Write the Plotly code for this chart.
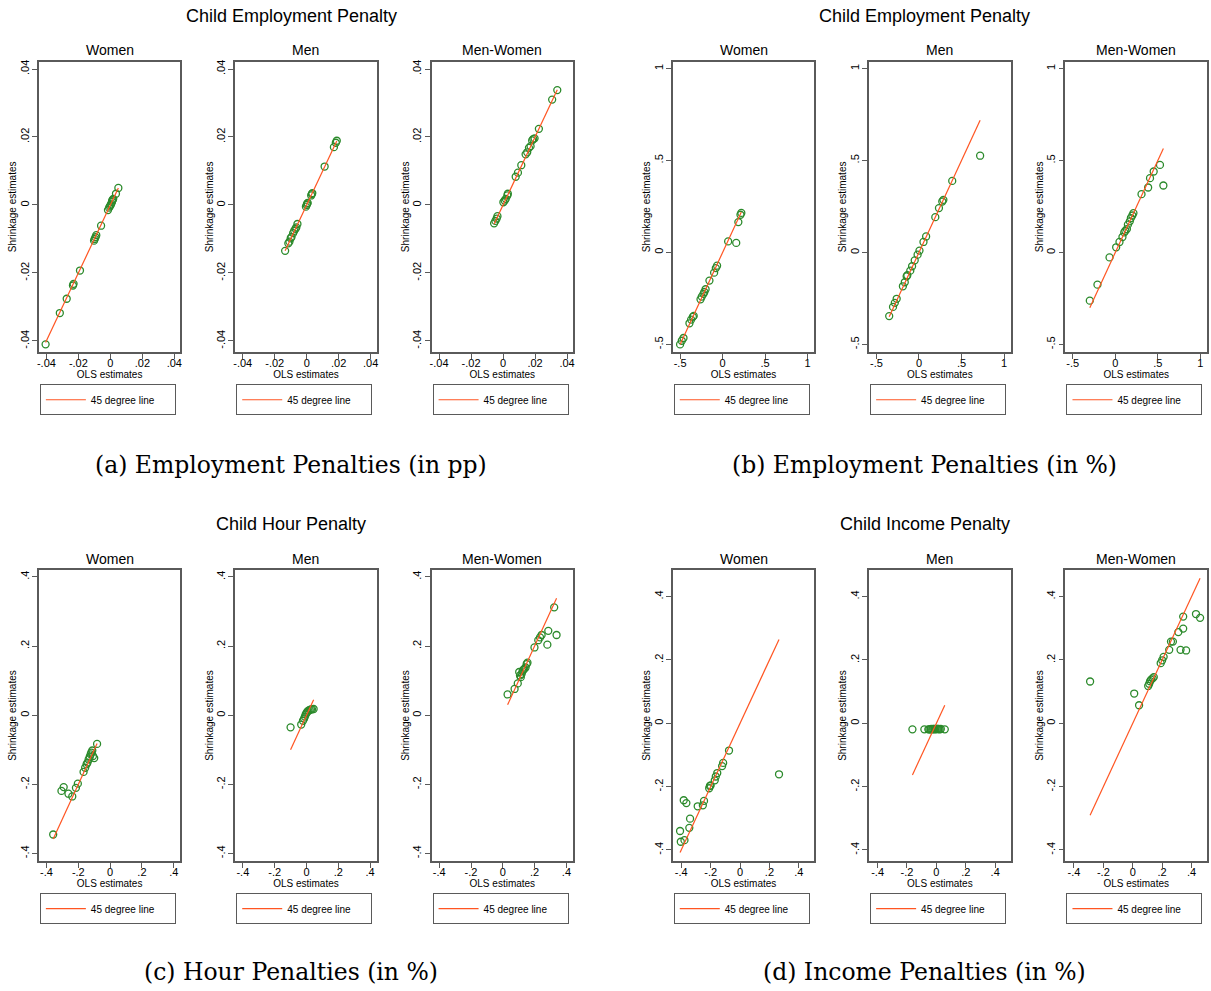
import plotly.graph_objects as go

W, H = 1211, 991

# ---------------- data: OLS estimates vs. shrinkage estimates ----------------
# (a) Employment penalties, in percentage points
emp_pp_women_ols = [-0.0405, -0.0316, -0.0273, -0.0234, -0.0230, -0.0190, -0.0102, -0.0098,
                    -0.0093, -0.0088, -0.0058, -0.0015, -0.0008, -0.0003, 0.0002, 0.0006,
                    0.0010, 0.0012, 0.0015, 0.0018, 0.0035, 0.0050]
emp_pp_women_shr = [-0.0410, -0.0318, -0.0276, -0.0237, -0.0232, -0.0193, -0.0105, -0.0100,
                    -0.0095, -0.0089, -0.0061, -0.0015, -0.0008, -0.0004, 0.0000, 0.0004,
                    0.0009, 0.0013, 0.0015, 0.0018, 0.0033, 0.0050]
emp_pp_men_ols = [-0.0135, -0.0115, -0.0108, -0.0100, -0.0095, -0.0085, -0.0078, -0.0070,
                  -0.0065, -0.0058, -0.0005, 0.0000, 0.0003, 0.0006, 0.0028, 0.0032,
                  0.0035, 0.0112, 0.0170, 0.0182, 0.0188]
emp_pp_men_shr = [-0.0135, -0.0113, -0.0108, -0.0098, -0.0094, -0.0083, -0.0076, -0.0070,
                  -0.0066, -0.0056, -0.0005, 0.0000, 0.0004, 0.0006, 0.0028, 0.0032,
                  0.0035, 0.0113, 0.0170, 0.0183, 0.0189]
emp_pp_diff_ols = [-0.0056, -0.0048, -0.0040, -0.0035, 0.0002, 0.0010, 0.0017, 0.0027,
                   0.0030, 0.0079, 0.0093, 0.0114, 0.0141, 0.0151, 0.0162, 0.0172,
                   0.0182, 0.0189, 0.0197, 0.0224, 0.0307, 0.0339]
emp_pp_diff_shr = [-0.0054, -0.0047, -0.0040, -0.0033, 0.0008, 0.0013, 0.0018, 0.0028,
                   0.0033, 0.0083, 0.0095, 0.0117, 0.0149, 0.0155, 0.0168, 0.0173,
                   0.0190, 0.0194, 0.0196, 0.0224, 0.0310, 0.0338]

# (b) Employment penalties, in percent
emp_pct_women_ols = [-0.50, -0.48, -0.46, -0.39, -0.37, -0.35, -0.34, -0.26, -0.245, -0.225,
                     -0.215, -0.20, -0.155, -0.10, -0.08, -0.065, 0.065, 0.16, 0.185, 0.21, 0.22]
emp_pct_women_shr = [-0.50, -0.48, -0.465, -0.385, -0.365, -0.35, -0.345, -0.255, -0.24, -0.225,
                     -0.215, -0.20, -0.153, -0.11, -0.085, -0.072, 0.06, 0.052, 0.165, 0.205, 0.215]
emp_pct_men_ols = [-0.35, -0.305, -0.284, -0.262, -0.189, -0.167, -0.145, -0.137, -0.102, -0.081,
                   -0.05, -0.016, 0.006, 0.053, 0.084, 0.192, 0.235, 0.274, 0.287, 0.391, 0.719]
emp_pct_men_shr = [-0.346, -0.296, -0.274, -0.252, -0.184, -0.162, -0.130, -0.124, -0.099, -0.075,
                   -0.043, -0.012, 0.010, 0.057, 0.087, 0.192, 0.241, 0.277, 0.286, 0.389, 0.526]
emp_pct_diff_ols = [-0.30, -0.210, -0.068, 0.010, 0.049, 0.084, 0.105, 0.118, 0.136, 0.148,
                    0.170, 0.183, 0.200, 0.213, 0.308, 0.386, 0.408, 0.451, 0.525, 0.565]
emp_pct_diff_shr = [-0.262, -0.175, -0.027, 0.028, 0.057, 0.084, 0.109, 0.118, 0.127, 0.151,
                    0.169, 0.187, 0.201, 0.214, 0.317, 0.353, 0.404, 0.440, 0.476, 0.364]

# (c) Hour penalties, in percent
hour_women_ols = [-0.358, -0.306, -0.292, -0.262, -0.238, -0.215, -0.203, -0.167, -0.157, -0.148,
                  -0.142, -0.135, -0.128, -0.122, -0.118, -0.112, -0.108, -0.100, -0.082]
hour_women_shr = [-0.345, -0.219, -0.208, -0.227, -0.235, -0.210, -0.198, -0.164, -0.152, -0.142,
                  -0.137, -0.128, -0.120, -0.113, -0.108, -0.102, -0.118, -0.124, -0.083]
hour_men_ols = [-0.100, -0.033, -0.022, -0.015, -0.010, -0.005, 0.000, 0.005, 0.012, 0.020,
                0.028, 0.035, 0.045]
hour_men_shr = [-0.035, -0.027, -0.016, -0.010, -0.004, 0.002, 0.006, 0.010, 0.013, 0.015,
                0.017, 0.017, 0.018]
hour_diff_ols = [0.030, 0.074, 0.094, 0.103, 0.108, 0.113, 0.118, 0.124, 0.128, 0.135, 0.143,
                 0.150, 0.155, 0.199, 0.223, 0.234, 0.244, 0.280, 0.286, 0.323, 0.338]
hour_diff_shr = [0.060, 0.076, 0.092, 0.125, 0.115, 0.110, 0.119, 0.127, 0.131, 0.134, 0.138,
                 0.148, 0.152, 0.196, 0.217, 0.225, 0.232, 0.204, 0.244, 0.312, 0.232]

# (d) Income penalties, in percent
inc_women_ols = [-0.408, -0.403, -0.378, -0.383, -0.365, -0.345, -0.340, -0.288, -0.253, -0.245,
                 -0.210, -0.205, -0.200, -0.172, -0.165, -0.155, -0.122, -0.115, -0.075, 0.265]
inc_women_shr = [-0.340, -0.374, -0.369, -0.243, -0.252, -0.330, -0.301, -0.262, -0.259, -0.245,
                 -0.205, -0.198, -0.196, -0.180, -0.168, -0.157, -0.135, -0.125, -0.086, -0.161]
inc_men_ols = [-0.163, -0.082, -0.055, -0.048, -0.040, -0.035, -0.028, -0.022, -0.015, -0.010,
               -0.005, 0.002, 0.008, 0.015, 0.022, 0.030, 0.057]
inc_men_shr = [-0.019, -0.019, -0.019, -0.019, -0.019, -0.018, -0.019, -0.018, -0.018, -0.019,
               -0.018, -0.018, -0.018, -0.018, -0.019, -0.018, -0.019]
inc_diff_ols = [-0.290, 0.010, 0.043, 0.105, 0.112, 0.118, 0.125, 0.135, 0.143, 0.190, 0.200,
                0.210, 0.248, 0.260, 0.273, 0.310, 0.325, 0.343, 0.343, 0.363, 0.430, 0.458]
inc_diff_shr = [0.132, 0.094, 0.057, 0.118, 0.125, 0.133, 0.138, 0.142, 0.146, 0.190, 0.199,
                0.210, 0.232, 0.258, 0.258, 0.288, 0.232, 0.299, 0.337, 0.230, 0.345, 0.333]

# axis ticks per figure block
ticks_pp = [-0.04, -0.02, 0, 0.02, 0.04]
ticktext_pp = ["-.04", "-.02", "0", ".02", ".04"]
ticks_emp = [-0.5, 0, 0.5, 1]
ticktext_emp = ["-.5", "0", ".5", "1"]
ticks_pct = [-0.4, -0.2, 0, 0.2, 0.4]
ticktext_pct = ["-.4", "-.2", "0", ".2", ".4"]

panel_titles = ["Women", "Men", "Men-Women"]
block_titles = ["Child Employment Penalty", "Child Employment Penalty",
                "Child Hour Penalty", "Child Income Penalty"]
captions = ["(a) Employment Penalties (in pp)", "(b) Employment Penalties (in %)",
            "(c) Hour Penalties (in %)", "(d) Income Penalties (in %)"]

blocks = [
    dict(series=[(emp_pp_women_ols, emp_pp_women_shr), (emp_pp_men_ols, emp_pp_men_shr),
                 (emp_pp_diff_ols, emp_pp_diff_shr)],
         ticks=ticks_pp, ticktext=ticktext_pp,
         xr=[-0.0447, 0.0438], yr=[-0.0432, 0.0421], col=0, row=0),
    dict(series=[(emp_pct_women_ols, emp_pct_women_shr), (emp_pct_men_ols, emp_pct_men_shr),
                 (emp_pct_diff_ols, emp_pct_diff_shr)],
         ticks=ticks_emp, ticktext=ticktext_emp,
         xr=[-0.586, 1.078], yr=[-0.54, 1.036], col=1, row=0),
    dict(series=[(hour_women_ols, hour_women_shr), (hour_men_ols, hour_men_shr),
                 (hour_diff_ols, hour_diff_shr)],
         ticks=ticks_pct, ticktext=ticktext_pct,
         xr=[-0.448, 0.442], yr=[-0.421, 0.419], col=0, row=1),
    dict(series=[(inc_women_ols, inc_women_shr), (inc_men_ols, inc_men_shr),
                 (inc_diff_ols, inc_diff_shr)],
         ticks=ticks_pct, ticktext=ticktext_pct,
         xr=[-0.4575, 0.505], yr=[-0.434, 0.483], col=1, row=1),
]

# ---------------- styling / geometry ----------------
SANS = "Liberation Sans Narrow, Arial Narrow, Liberation Sans, Arial, sans-serif"
SERIF = "DejaVu Serif, serif"
FRAME = "#5a5a5a"
GREEN = "#2b8a2b"
ORANGE = "#ff5522"

frame_left = [37, 234, 431]      # px, left block
block_shift = 636                # px between left and right blocks
frame_w = 142
block_centre = 290               # px, centre of the titles of the left block
row_top = [60, 569.5]
row_bot = [350.5, 860.5]
title_y = [14, 523]
subtitle_y = [48, 558]
legend_top = [383, 893]
caption_y = [464, 972]


def px_x(v):
    return v / W


def px_y(v):
    return 1 - v / H


def label(text, x, y, size, family=SANS):
    return dict(text=text, x=px_x(x), y=px_y(y), xref="paper", yref="paper",
                xanchor="center", yanchor="middle", showarrow=False,
                font=dict(family=family, size=size, color="black"))


fig = go.Figure()
layout = dict(width=W, height=H, margin=dict(l=0, r=0, t=0, b=0),
              paper_bgcolor="white", plot_bgcolor="white", showlegend=True)
annotations = []

n = 0
for bi, b in enumerate(blocks):
    shift = block_shift * b["col"]
    r = b["row"]
    annotations.append(label(block_titles[bi], block_centre + shift, title_y[r], 18))
    annotations.append(label(captions[bi], block_centre + shift, caption_y[r], 23.5, SERIF))
    for k, (ols, shr) in enumerate(b["series"]):
        n += 1
        sfx = "" if n == 1 else str(n)
        left = frame_left[k] + shift
        xa, ya = "x" + sfx, "y" + sfx

        # estimates
        fig.add_trace(go.Scatter(x=ols, y=shr, mode="markers", xaxis=xa, yaxis=ya,
                                 showlegend=False,
                                 marker=dict(symbol="circle-open", size=7, color=GREEN,
                                             line=dict(width=1.3, color=GREEN))))
        # 45 degree line over the range of the OLS estimates
        lo, hi = min(ols), max(ols)
        fig.add_trace(go.Scatter(x=[lo, hi], y=[lo, hi], mode="lines", xaxis=xa, yaxis=ya,
                                 name="45 degree line", legend="legend" + sfx,
                                 line=dict(color=ORANGE, width=1.2)))

        axis_common = dict(showline=True, mirror=True, linecolor=FRAME, linewidth=1.5,
                           ticks="outside", ticklen=5, tickwidth=1, tickcolor=FRAME,
                           showgrid=False, zeroline=False,
                           tickvals=b["ticks"], ticktext=b["ticktext"],
                           tickfont=dict(family=SANS, size=11, color="black"))
        layout["xaxis" + sfx] = dict(axis_common, domain=[px_x(left), px_x(left + frame_w)],
                                     range=b["xr"], anchor=ya, ticklabelstandoff=-5,
                                     title=dict(text="OLS estimates", standoff=0,
                                                font=dict(family=SANS, size=10, color="black")))
        layout["yaxis" + sfx] = dict(axis_common, domain=[px_y(row_bot[r]), px_y(row_top[r])],
                                     range=b["yr"], anchor=xa, tickangle=-90,
                                     ticklabelstandoff=-1,
                                     title=dict(text="Shrinkage estimates", standoff=0,
                                                font=dict(family=SANS, size=10, color="black")))
        layout["legend" + sfx] = dict(x=px_x(left + 1), y=px_y(legend_top[r]),
                                      xanchor="left", yanchor="top",
                                      orientation="h", entrywidth=79, itemwidth=40,
                                      bordercolor=FRAME, borderwidth=1, bgcolor="white",
                                      font=dict(family=SANS, size=10, color="black"))
        annotations.append(label(panel_titles[k], left + frame_w / 2, subtitle_y[r], 14))

layout["annotations"] = annotations
fig.update_layout(**layout)
fig.write_html("out.html")
